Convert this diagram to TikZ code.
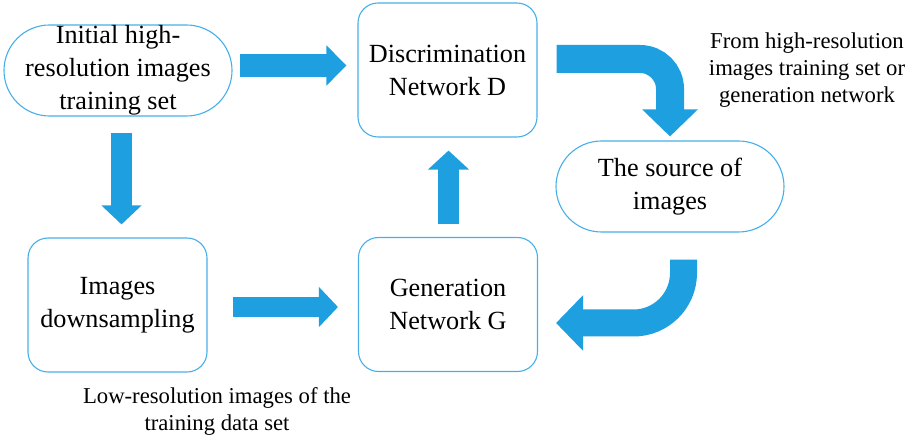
\documentclass[tikz,border=0pt]{standalone}
\usepackage{fontspec}
\setmainfont{Liberation Serif}
\usepackage{tikz}
\usetikzlibrary{arrows.meta}
\definecolor{arrowblue}{RGB}{30,160,224}
\definecolor{edgeblue}{RGB}{70,175,232}

\begin{document}
\begin{tikzpicture}[x=1pt, y=-1pt,
    box/.style={draw=edgeblue, line width=1.1pt, rounded corners=20pt, minimum width=179pt,
      minimum height=134pt, align=center, font=\fontsize{26.2}{33}\selectfont},
    stadium/.style={draw=edgeblue, line width=1.1pt, rounded corners=45.5pt, minimum width=228pt,
      minimum height=91pt, inner sep=0pt, align=center, font=\fontsize{26.2}{33}\selectfont},
    note/.style={align=center, font=\fontsize{22.7}{27}\selectfont},
    blockarrow/.style={draw=arrowblue, line width=#1},
    blockarrow/.default=21pt]
    \useasboundingbox (0,0) rectangle (915,443);

    \node[stadium] (init) at (118,70.5) {Initial high-\\resolution images\\training set};
    \node[box] (disc) at (447.5,70) {Discrimination\\Network D};
    \node[stadium] (src) at (670,186.5) {The source of\\images};
    \node[box] (down) at (117.5,305) {Images\\downsampling};
    \node[box] (gen) at (448,304.5) {Generation\\Network G};

    \node[note] (fromtext) at (807,70) {From high-resolution\\images training set or\\generation network};
    \node[note] (lowtext) at (217,411.5) {Low-resolution images of the\\training data set};

    % straight block arrows
    \draw[blockarrow=23pt, -{Triangle[width=39pt,length=20pt]}]
        ([xshift=7pt,yshift=5pt]init.east) -- ([xshift=-11pt,yshift=4.5pt]disc.west);
    \draw[blockarrow, -{Triangle[width=39pt,length=19pt]}]
        ([xshift=3.5pt,yshift=-16pt]init.south) -- ([xshift=4pt,yshift=13pt]down.north);
    \draw[blockarrow=20pt, -{Triangle[width=39pt,length=19pt]}]
        ([xshift=25pt,yshift=-2pt]down.east) -- ([xshift=-20pt,yshift=-2.5pt]gen.west);
    \draw[blockarrow, -{Triangle[width=40pt,length=19pt]}]
        ([xshift=0.5pt,yshift=13pt]gen.north) -- ([xshift=1pt,yshift=-13pt]disc.south);

    % bent block arrows
    \draw[blockarrow=28pt, rounded corners=30pt, -{Triangle[width=54pt,length=27pt]}]
        ([xshift=19pt,yshift=11pt]disc.east) -| ([yshift=4pt]src.north);
    \draw[blockarrow=27pt, rounded corners=50pt, -{Triangle[width=54pt,length=27pt]}]
        ([xshift=13.5pt,yshift=-27pt]src.south) |- ([xshift=18pt,yshift=-18.5pt]gen.east);
\end{tikzpicture}
\end{document}
